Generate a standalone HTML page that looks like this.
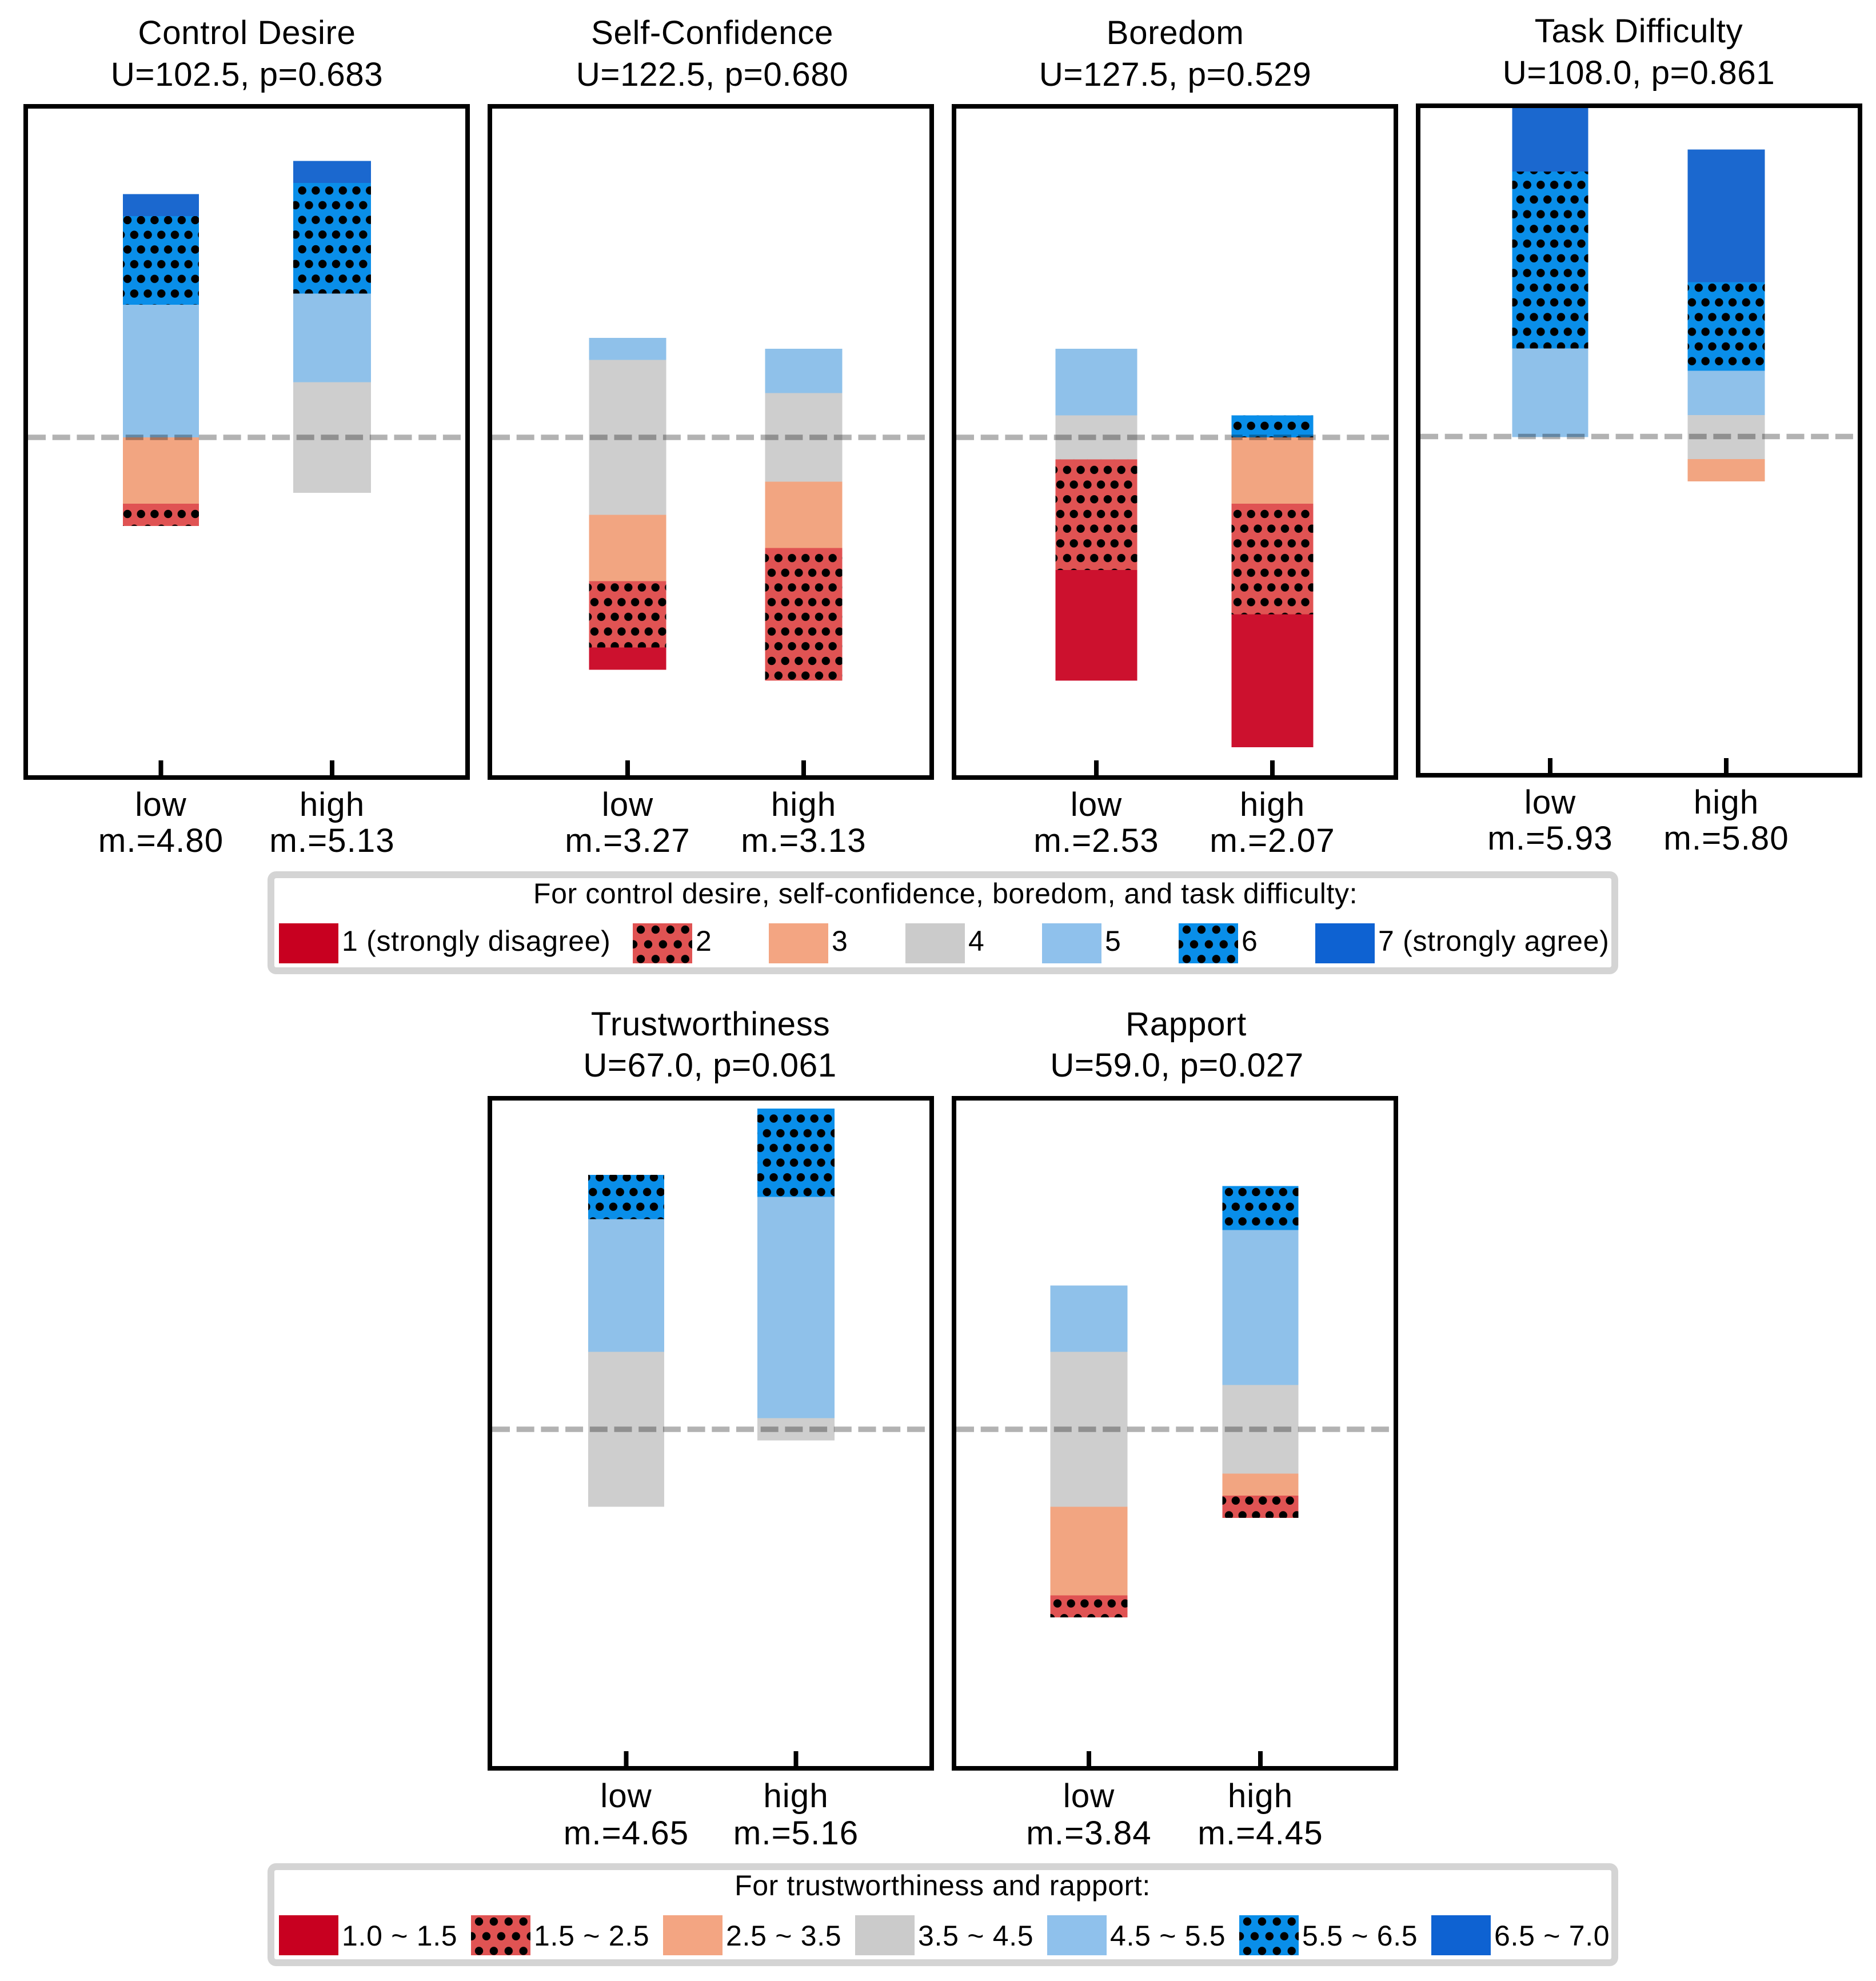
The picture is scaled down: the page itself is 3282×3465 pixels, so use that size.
<!DOCTYPE html>
<html lang="en">
<head>
<meta charset="utf-8">
<title>Likert responses by group</title>
<style>
html,body{margin:0;padding:0;background:#fff;}
svg{display:block;}
text{font-family:"Liberation Sans",Arial,sans-serif;fill:#000;}
.t{font-size:58.33px;letter-spacing:.6px;text-anchor:middle;}
.tk{font-size:58.33px;letter-spacing:1px;text-anchor:middle;}
.l{font-size:50px;letter-spacing:.7px;}
.lt{font-size:50px;letter-spacing:.6px;text-anchor:middle;}
.frame{fill:none;stroke:#000;stroke-width:8;}
.box{fill:#fff;stroke:#d4d4d4;stroke-width:12;}
.s{shape-rendering:crispEdges;}
</style>
</head>
<body>
<svg id="chart" xmlns="http://www.w3.org/2000/svg" width="3282" height="3465" viewBox="0 0 3282 3465">
<defs>
  <pattern id="legend-dots-a" patternUnits="userSpaceOnUse" x="1121" y="1626" width="25.9" height="51.4"><circle cx="0" cy="0" r="7.2"/><circle cx="25.9" cy="0" r="7.2"/><circle cx="0" cy="51.4" r="7.2"/><circle cx="25.9" cy="51.4" r="7.2"/><circle cx="12.95" cy="25.7" r="7.2"/></pattern>
  <pattern id="legend-dots-b" patternUnits="userSpaceOnUse" x="2076" y="1626" width="25.9" height="51.4"><circle cx="0" cy="0" r="7.2"/><circle cx="25.9" cy="0" r="7.2"/><circle cx="0" cy="51.4" r="7.2"/><circle cx="25.9" cy="51.4" r="7.2"/><circle cx="12.95" cy="25.7" r="7.2"/></pattern>
  <pattern id="legend-dots-c" patternUnits="userSpaceOnUse" x="838" y="3361" width="25.9" height="51.4"><circle cx="0" cy="0" r="7.2"/><circle cx="25.9" cy="0" r="7.2"/><circle cx="0" cy="51.4" r="7.2"/><circle cx="25.9" cy="51.4" r="7.2"/><circle cx="12.95" cy="25.7" r="7.2"/></pattern>
  <pattern id="legend-dots-d" patternUnits="userSpaceOnUse" x="2182" y="3361" width="25.9" height="51.4"><circle cx="0" cy="0" r="7.2"/><circle cx="25.9" cy="0" r="7.2"/><circle cx="0" cy="51.4" r="7.2"/><circle cx="25.9" cy="51.4" r="7.2"/><circle cx="12.95" cy="25.7" r="7.2"/></pattern>
</defs>
<rect width="3282" height="3465" fill="#fff"/>

<g>
  <text class="t" x="432" y="77">Control Desire</text>
  <text class="t" x="432" y="150">U=102.5, p=0.683</text>
  <text class="t" x="1246" y="77">Self-Confidence</text>
  <text class="t" x="1246" y="150">U=122.5, p=0.680</text>
  <text class="t" x="2056" y="77">Boredom</text>
  <text class="t" x="2056" y="150">U=127.5, p=0.529</text>
  <text class="t" x="2867" y="74">Task Difficulty</text>
  <text class="t" x="2867" y="147">U=108.0, p=0.861</text>
  <text class="t" x="1243" y="1811">Trustworthiness</text>
  <text class="t" x="1242" y="1883">U=67.0, p=0.061</text>
  <text class="t" x="2075" y="1811">Rapport</text>
  <text class="t" x="2059" y="1883">U=59.0, p=0.027</text>
</g>

<g id="panels"></g>

<g>
  <rect class="box" x="474" y="1530" width="2351" height="168" rx="9"/>
  <text class="lt" x="1654" y="1580">For control desire, self-confidence, boredom, and task difficulty:</text>
  <g><rect class="s" x="488" y="1615" width="104" height="70" fill="#c80020"/><text class="l" x="598" y="1663">1 (strongly disagree)</text></g>
  <g><rect class="s" x="1107" y="1615" width="104" height="70" fill="#e05353"/><rect x="1107" y="1615" width="104" height="70" fill="url(#legend-dots-a)"/><text class="l" x="1217" y="1663">2</text></g>
  <g><rect class="s" x="1345" y="1615" width="104" height="70" fill="#f3a582"/><text class="l" x="1455" y="1663">3</text></g>
  <g><rect class="s" x="1584" y="1615" width="104" height="70" fill="#cbcbcb"/><text class="l" x="1694" y="1663">4</text></g>
  <g><rect class="s" x="1823" y="1615" width="104" height="70" fill="#8fc1ec"/><text class="l" x="1933" y="1663">5</text></g>
  <g><rect class="s" x="2062" y="1615" width="104" height="70" fill="#098ee9"/><rect x="2062" y="1615" width="104" height="70" fill="url(#legend-dots-b)"/><text class="l" x="2172" y="1663">6</text></g>
  <g><rect class="s" x="2301" y="1615" width="104" height="70" fill="#0e62d2"/><text class="l" x="2411" y="1663">7 (strongly agree)</text></g>
</g>

<g>
  <rect class="box" x="474" y="3265" width="2351" height="168" rx="9"/>
  <text class="lt" x="1649" y="3315">For trustworthiness and rapport:</text>
  <g><rect class="s" x="488" y="3350" width="104" height="70" fill="#c80020"/><text class="l" x="598" y="3403">1.0 ~ 1.5</text></g>
  <g><rect class="s" x="824" y="3350" width="104" height="70" fill="#e05353"/><rect x="824" y="3350" width="104" height="70" fill="url(#legend-dots-c)"/><text class="l" x="934" y="3403">1.5 ~ 2.5</text></g>
  <g><rect class="s" x="1160" y="3350" width="104" height="70" fill="#f3a582"/><text class="l" x="1270" y="3403">2.5 ~ 3.5</text></g>
  <g><rect class="s" x="1496" y="3350" width="104" height="70" fill="#cbcbcb"/><text class="l" x="1606" y="3403">3.5 ~ 4.5</text></g>
  <g><rect class="s" x="1832" y="3350" width="104" height="70" fill="#8fc1ec"/><text class="l" x="1942" y="3403">4.5 ~ 5.5</text></g>
  <g><rect class="s" x="2168" y="3350" width="104" height="70" fill="#098ee9"/><rect x="2168" y="3350" width="104" height="70" fill="url(#legend-dots-d)"/><text class="l" x="2278" y="3403">5.5 ~ 6.5</text></g>
  <g><rect class="s" x="2504" y="3350" width="104" height="70" fill="#0e62d2"/><text class="l" x="2614" y="3403">6.5 ~ 7.0</text></g>
</g>
</svg>

<script>
// ---- Data: respondent counts per response level (levels 1..7, bottom to top) ----
const categories = ['low', 'high'];
const levels = [1, 2, 3, 4, 5, 6, 7];

const controlDesireLow = [0, 1, 3, 0, 6, 4, 1];
const controlDesireHigh = [0, 0, 0, 5, 4, 5, 1];
const selfConfidenceLow = [1, 3, 3, 7, 1, 0, 0];
const selfConfidenceHigh = [0, 6, 3, 4, 2, 0, 0];
const boredomLow = [5, 5, 0, 2, 3, 0, 0];
const boredomHigh = [6, 5, 3, 0, 0, 1, 0];
const taskDifficultyLow = [0, 0, 0, 0, 4, 8, 3];
const taskDifficultyHigh = [0, 0, 1, 2, 2, 4, 6];
const trustworthinessLow = [0, 0, 0, 7, 6, 2, 0];
const trustworthinessHigh = [0, 0, 0, 1, 10, 4, 0];
const rapportLow = [0, 1, 4, 7, 3, 0, 0];
const rapportHigh = [0, 1, 1, 4, 7, 2, 0];

const controlDesireMeans = [4.80, 5.13];
const selfConfidenceMeans = [3.27, 3.13];
const boredomMeans = [2.53, 2.07];
const taskDifficultyMeans = [5.93, 5.80];
const trustworthinessMeans = [4.65, 5.16];
const rapportMeans = [3.84, 4.45];

// ---- Styles and layout (no data here) ----
const levelColors = ['#cc112e', '#e05353', '#f2a581', '#cecece', '#8fc1ea', '#098ee9', '#1b68cf'];
const hatchedLevels = [2, 6];
const unitPx = 38.7;
const dotPitchX = 23.7;
const dotPitchY = 51.4;

const panels = [
  { key: 'control-desire', low: controlDesireLow, high: controlDesireHigh, means: controlDesireMeans,
    left: 45, right: 818, top: 186, bottom: 1360, zero: 765, lineY: 765, x0: 281.5, x1: 581, w: [133, 136],
    labelY: [1427, 1490], dots: [[223, 385], [528.7, 384.6]] },
  { key: 'self-confidence', low: selfConfidenceLow, high: selfConfidenceHigh, means: selfConfidenceMeans,
    left: 857, right: 1630, top: 186, bottom: 1360, zero: 765, lineY: 765, x0: 1098, x1: 1406, w: [135, 135],
    labelY: [1427, 1490], dots: [[1040, 385], [1350, 385]] },
  { key: 'boredom', low: boredomLow, high: boredomHigh, means: boredomMeans,
    left: 1669, right: 2442, top: 186, bottom: 1360, zero: 765, lineY: 765, x0: 1918, x1: 2226, w: [143, 143],
    labelY: [1427, 1490], dots: [[1855, 385], [2165, 385]] },
  { key: 'task-difficulty', low: taskDifficultyLow, high: taskDifficultyHigh, means: taskDifficultyMeans,
    left: 2481, right: 3254, top: 185, bottom: 1356, zero: 764.5, lineY: 763.5, x0: 2712, x1: 3020, w: [133, 135],
    labelY: [1423, 1486], dots: [[2671.7, 323.3], [2960, 323.3]] },
  { key: 'trustworthiness', low: trustworthinessLow, high: trustworthinessHigh, means: trustworthinessMeans,
    left: 857, right: 1630, top: 1921, bottom: 3093, zero: 2500, lineY: 2500, x0: 1095.5, x1: 1392.5, w: [133, 135],
    labelY: [3161, 3226], dots: [[1037.3, 2085], [1341.7, 2085]] },
  { key: 'rapport', low: rapportLow, high: rapportHigh, means: rapportMeans,
    left: 1669, right: 2442, top: 1921, bottom: 3093, zero: 2500, lineY: 2500, x0: 1905, x1: 2205, w: [135, 133],
    labelY: [3161, 3226], dots: [[1850, 2085], [2150, 2085]] }
];

const NS = 'http://www.w3.org/2000/svg';
const svg = document.getElementById('chart');
const defs = svg.querySelector('defs');
const root = document.getElementById('panels');

function make(tag, attrs, parent) {
  const n = document.createElementNS(NS, tag);
  for (const k in attrs) n.setAttribute(k, attrs[k]);
  parent.appendChild(n);
  return n;
}

function xScale(p, i) { return p.x0 + i * (p.x1 - p.x0); }
function yScale(p, units) { return p.zero - units * unitPx; }

function unitsAboveZero(counts) {
  let above = counts[3] / 2;
  levels.forEach(function (lv, i) { if (lv > 4) above += counts[i]; });
  return above;
}

function dotPattern(id, ax, ay) {
  const pt = make('pattern', { id: id, patternUnits: 'userSpaceOnUse', x: ax, y: ay, width: dotPitchX, height: dotPitchY }, defs);
  [[0, 0], [dotPitchX, 0], [0, dotPitchY], [dotPitchX, dotPitchY], [dotPitchX / 2, dotPitchY / 2]].forEach(function (c) {
    make('circle', { cx: c[0], cy: c[1], r: 7.2 }, pt);
  });
}

panels.forEach(function (p) {
  const g = make('g', {}, root);
  
  

  const clipId = p.key + '-clip';
  const clip = make('clipPath', { id: clipId }, defs);
  make('rect', { x: p.left, y: p.top, width: p.right - p.left, height: p.bottom - p.top }, clip);

  const barsG = make('g', { 'clip-path': 'url(#' + clipId + ')' }, g);
  
  

  [p.low, p.high].forEach(function (counts, ci) {
    const cat = categories[ci];
    const cx = xScale(p, ci);
    const w = p.w[ci];
    const patId = p.key + '-dots-' + cat;
    dotPattern(patId, p.dots[ci][0], p.dots[ci][1]);
    let cursor = unitsAboveZero(counts);
    for (let i = levels.length - 1; i >= 0; i--) {
      const c = counts[i];
      if (!c) continue;
      const y = yScale(p, cursor);
      const h = c * unitPx;
      const seg = make('rect', { x: cx - w / 2, y: y, width: w, height: h, fill: levelColors[i], class: 's' }, barsG);
      
      
      if (hatchedLevels.indexOf(levels[i]) >= 0) {
        const hatch = make('rect', { x: cx - w / 2, y: y, width: w, height: h, fill: 'url(#' + patId + ')' }, barsG);
        
        
      }
      cursor -= c;
    }
  });

  const dash = make('line', { x1: p.left + 4, x2: p.right - 4, y1: p.lineY, y2: p.lineY, stroke: '#000', 'stroke-opacity': 0.3, 'stroke-width': 9.5, 'stroke-dasharray': '31 11.7' }, g);
  
  

  const frame = make('rect', { x: p.left, y: p.top, width: p.right - p.left, height: p.bottom - p.top, class: 'frame s' }, g);
  
  

  categories.forEach(function (cat, ci) {
    const cx = xScale(p, ci);
    const tick = make('line', { x1: cx, x2: cx, y1: p.bottom - 30, y2: p.bottom, stroke: '#000', 'stroke-width': 8, class: 's' }, g);
    
    

    const label = make('text', { class: 'tk', x: cx, y: p.labelY[0] }, g);
    label.textContent = cat;
    
    

    const mean = make('text', { class: 'tk', x: cx, y: p.labelY[1] }, g);
    mean.textContent = 'm.=' + p.means[ci].toFixed(2);
    
    
  });
});
</script>
</body>
</html>
